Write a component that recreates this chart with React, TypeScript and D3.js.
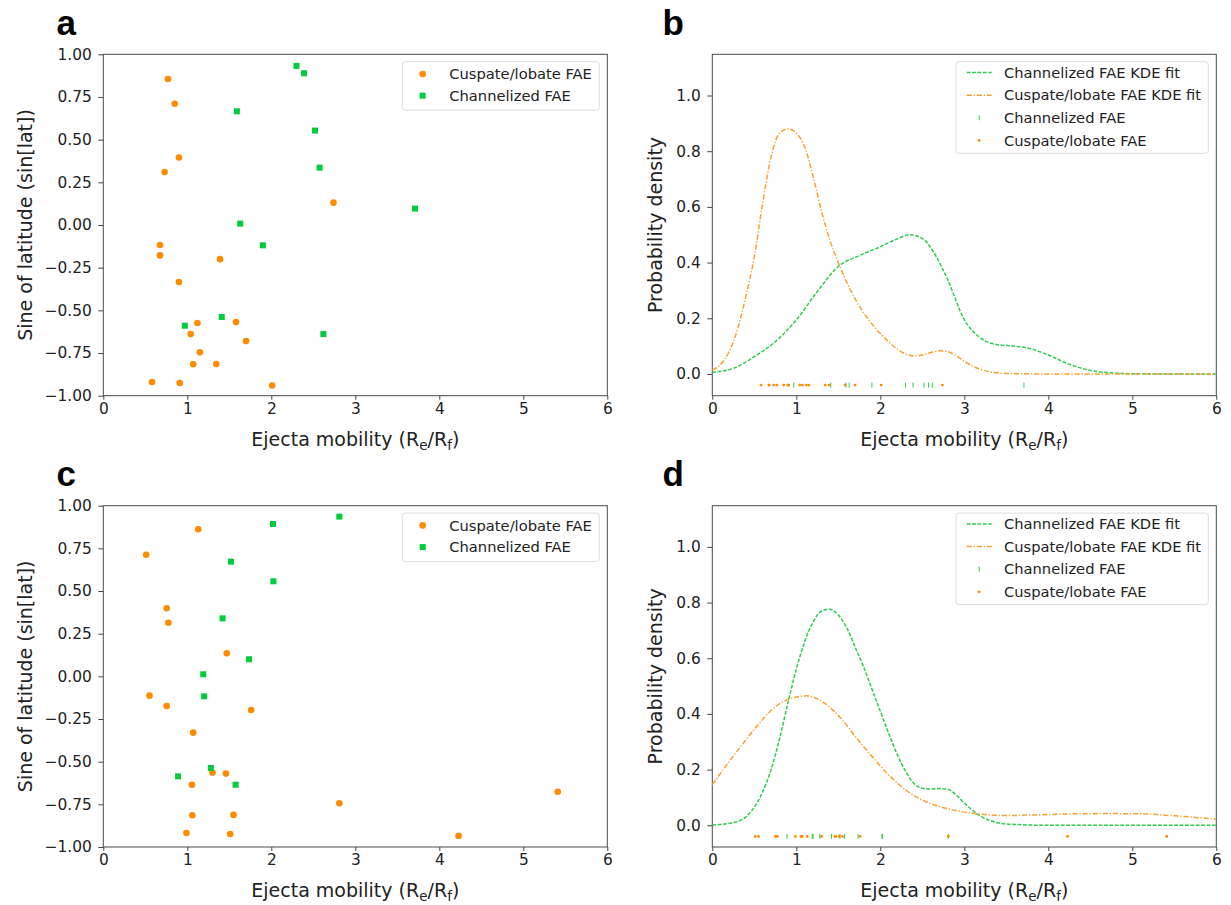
import React, { useRef, useEffect } from "react";
import * as d3 from "d3";

// scatter points: [ejecta mobility, sine of latitude]
const cuspateTop = [
  [0.77, 0.855], [0.85, 0.71], [0.9, 0.395], [0.73, 0.31], [0.675, -0.117],
  [0.675, -0.178], [1.39, -0.2], [0.9, -0.334], [1.12, -0.574], [1.58, -0.568],
  [1.04, -0.639], [1.7, -0.68], [1.15, -0.746], [1.07, -0.816], [1.345, -0.815],
  [0.58, -0.92], [0.91, -0.926], [2.01, -0.94], [2.74, 0.131],
];
const channelTop = [
  [2.3, 0.932], [2.39, 0.889], [1.59, 0.666], [2.52, 0.553], [2.575, 0.336],
  [1.63, 0.008], [3.71, 0.096], [1.9, -0.119], [1.41, -0.539], [0.97, -0.59],
  [2.62, -0.639],
];
const cuspateBottom = [
  [1.13, 0.862], [0.51, 0.713], [0.755, 0.399], [0.775, 0.314], [1.47, 0.135],
  [0.55, -0.113], [0.755, -0.174], [1.76, -0.197], [1.07, -0.33], [1.3, -0.564],
  [1.46, -0.57], [1.055, -0.635], [1.55, -0.812], [1.06, -0.814], [0.99, -0.918],
  [1.51, -0.924], [2.81, -0.744], [4.23, -0.935], [5.41, -0.676],
];
const channelBottom = [
  [2.02, 0.893], [1.52, 0.672], [2.025, 0.557], [1.42, 0.34], [1.735, 0.1],
  [1.19, 0.012], [1.2, -0.117], [1.28, -0.537], [0.89, -0.586], [1.575, -0.635],
  [2.81, 0.936],
];

// KDE curves: [mobility, density]
const kdeChannelTop = [
  [0, 0.006], [0.25, 0.02], [0.5, 0.062], [0.75, 0.116], [1.0, 0.194], [1.25, 0.296],
  [1.5, 0.386], [1.75, 0.425], [2.0, 0.457], [2.2, 0.485], [2.35, 0.5], [2.5, 0.487],
  [2.65, 0.43], [2.8, 0.34], [3.0, 0.195], [3.2, 0.128], [3.4, 0.105], [3.6, 0.1],
  [3.8, 0.09], [4.0, 0.068], [4.25, 0.035], [4.5, 0.013], [4.75, 0.004], [5.0, 0.001],
  [5.5, 0], [6, 0],
];
const kdeCuspateTop = [
  [0, 0.014], [0.1, 0.035], [0.2, 0.08], [0.3, 0.16], [0.4, 0.28], [0.5, 0.42],
  [0.6, 0.615], [0.7, 0.78], [0.8, 0.865], [0.9, 0.88], [1.0, 0.865], [1.1, 0.815],
  [1.2, 0.71], [1.3, 0.585], [1.4, 0.48], [1.5, 0.4], [1.6, 0.33], [1.7, 0.27],
  [1.8, 0.22], [1.9, 0.18], [2.0, 0.145], [2.1, 0.115], [2.2, 0.09], [2.3, 0.072],
  [2.4, 0.065], [2.5, 0.068], [2.6, 0.077], [2.7, 0.083], [2.8, 0.08], [2.9, 0.066],
  [3.0, 0.046], [3.1, 0.028], [3.2, 0.016], [3.3, 0.008], [3.5, 0.002], [4, 0], [6, 0],
];
const kdeChannelBottom = [
  [0, 0.001], [0.25, 0.01], [0.4, 0.03], [0.5, 0.065], [0.6, 0.12], [0.7, 0.2],
  [0.8, 0.31], [0.9, 0.44], [1.0, 0.56], [1.1, 0.66], [1.2, 0.73], [1.3, 0.77],
  [1.4, 0.776], [1.5, 0.755], [1.6, 0.71], [1.7, 0.64], [1.8, 0.57], [1.9, 0.49],
  [2.0, 0.41], [2.1, 0.33], [2.2, 0.255], [2.3, 0.195], [2.4, 0.15], [2.5, 0.133],
  [2.6, 0.13], [2.7, 0.132], [2.8, 0.13], [2.9, 0.11], [3.0, 0.08], [3.1, 0.053],
  [3.2, 0.032], [3.3, 0.018], [3.4, 0.009], [3.6, 0.003], [4, 0], [6, 0],
];
const kdeCuspateBottom = [
  [0, 0.146], [0.33, 0.28], [0.52, 0.352], [0.72, 0.418], [0.92, 0.454], [1.12, 0.465],
  [1.32, 0.442], [1.52, 0.388], [1.71, 0.316], [1.91, 0.244], [2.11, 0.178], [2.31, 0.125],
  [2.51, 0.089], [2.71, 0.067], [2.9, 0.053], [3.1, 0.043], [3.5, 0.035], [3.9, 0.038],
  [4.3, 0.041], [4.7, 0.042], [5.1, 0.041], [5.5, 0.034], [6.0, 0.022],
];

const xTicks = [0, 1, 2, 3, 4, 5, 6];
const sinTicks = [-1, -0.75, -0.5, -0.25, 0, 0.25, 0.5, 0.75, 1];
const densityTicks = [0, 0.2, 0.4, 0.6, 0.8, 1.0];
const scatterLegend = ["Cuspate/lobate FAE", "Channelized FAE"];
const kdeLegend = ["Channelized FAE KDE fit", "Cuspate/lobate FAE KDE fit", "Channelized FAE", "Cuspate/lobate FAE"];

const ORANGE = "#ff8c00";
const GREEN = "#00cc3c";
const KDE_ORANGE = "#f7a233";
const KDE_GREEN = "#2ecc4f";
const FONT = "DejaVu Sans";
const RUG_Y = -0.04;

function App() {
  const svgRef = useRef(null);

  useEffect(() => {
    const svg = d3.select(svgRef.current);
    svg.selectAll("*").remove();

    const frameAxes = (g, x, y, yFormat, yTicks, yLabel, yLabelX, box) => {
      const xAxis = d3.axisBottom(x).tickValues(xTicks).tickFormat(d3.format("d"))
        .tickSize(4).tickSizeOuter(0).tickPadding(3.5);
      const gx = g.append("g").attr("transform", `translate(0,${box.bottom})`).call(xAxis);
      const yAxis = d3.axisLeft(y).tickValues(yTicks).tickFormat(d3.format(yFormat))
        .tickSize(5).tickSizeOuter(0).tickPadding(6.5);
      const gy = g.append("g").attr("transform", `translate(${box.left},0)`).call(yAxis);
      [gx, gy].forEach(a => {
        a.select(".domain").remove();
        a.selectAll("line").attr("stroke", "#444");
        a.selectAll("text").attr("font-family", FONT).attr("font-size", 15.4).attr("fill", "#222");
      });
      g.append("rect")
        .attr("x", box.left).attr("y", box.top)
        .attr("width", box.right - box.left).attr("height", box.bottom - box.top)
        .attr("fill", "none").attr("stroke", "#4a4a4a").attr("stroke-width", 1);

      // x label with subscripts
      const xl = g.append("text")
        .attr("x", (box.left + box.right) / 2).attr("y", box.bottom + 50)
        .attr("text-anchor", "middle").attr("font-family", FONT).attr("font-size", 19).attr("fill", "#222");
      xl.append("tspan").text("Ejecta mobility (R");
      xl.append("tspan").attr("dy", 4).attr("font-size", 13.5).text("e");
      xl.append("tspan").attr("dy", -4).text("/R");
      xl.append("tspan").attr("dy", 4).attr("font-size", 13.5).text("f");
      xl.append("tspan").attr("dy", -4).text(")");

      g.append("text")
        .attr("transform", `translate(${yLabelX},${(box.top + box.bottom) / 2}) rotate(-90)`)
        .attr("text-anchor", "middle").attr("font-family", FONT).attr("font-size", 19).attr("fill", "#222")
        .text(yLabel);
    };

    const panelLetter = (letter, x, y) => {
      svg.append("text").attr("x", x).attr("y", y)
        .attr("font-family", "Liberation Sans").attr("font-weight", "bold").attr("font-size", 35)
        .attr("fill", "#000").text(letter);
    };

    const drawScatter = (box, cusp, chan, letter) => {
      const g = svg.append("g");
      const x = d3.scaleLinear().domain([0, 6]).range([box.left, box.right]);
      const y = d3.scaleLinear().domain([-1, 1]).range([box.bottom, box.top]);
      frameAxes(g, x, y, ".2f", sinTicks, "Sine of latitude (sin[lat])", 32, box);

      g.selectAll(".cusp").data(cusp).join("circle")
        .attr("cx", d => x(d[0])).attr("cy", d => y(d[1])).attr("r", 3.3).attr("fill", ORANGE);
      g.selectAll(".chan").data(chan).join("rect")
        .attr("x", d => x(d[0]) - 3).attr("y", d => y(d[1]) - 3)
        .attr("width", 6).attr("height", 6).attr("fill", GREEN);

      // legend
      const lx = box.left + 299, ly = box.top + 7.4;
      g.append("rect").attr("x", lx).attr("y", ly).attr("width", 197).attr("height", 48.5)
        .attr("rx", 3).attr("fill", "#fff").attr("fill-opacity", 0.8).attr("stroke", "#ddd");
      scatterLegend.forEach((name, i) => {
        const cy = ly + 12.3 + i * 21.7;
        if (i === 0) g.append("circle").attr("cx", lx + 20.4).attr("cy", cy).attr("r", 3.3).attr("fill", ORANGE);
        else g.append("rect").attr("x", lx + 17.4).attr("y", cy - 3).attr("width", 6).attr("height", 6).attr("fill", GREEN);
        g.append("text").attr("x", lx + 47).attr("y", cy).attr("dy", "0.36em")
          .attr("font-family", FONT).attr("font-size", 14.7).attr("fill", "#222").text(name);
      });
      panelLetter(letter, box.left - 46.8, box.top - 19.3);
    };

    const drawKde = (box, kdeChan, kdeCusp, cusp, chan, letter) => {
      const g = svg.append("g");
      const x = d3.scaleLinear().domain([0, 6]).range([box.left, box.right]);
      const y = d3.scaleLinear().domain([-0.078, 1.148]).range([box.bottom, box.top]);
      frameAxes(g, x, y, ".1f", densityTicks, "Probability density", 662 - 712.3 + box.left, box);

      const line = d3.line().x(d => x(d[0])).y(d => y(d[1])).curve(d3.curveMonotoneX);
      g.append("path").datum(kdeChan).attr("d", line).attr("fill", "none")
        .attr("stroke", KDE_GREEN).attr("stroke-width", 1.5).attr("stroke-dasharray", "3.8,1.6");
      g.append("path").datum(kdeCusp).attr("d", line).attr("fill", "none")
        .attr("stroke", KDE_ORANGE).attr("stroke-width", 1.5).attr("stroke-dasharray", "5.2,1.8,1.3,1.8");

      // rug markers
      g.selectAll(".rugchan").data(chan).join("line")
        .attr("x1", d => x(d[0])).attr("x2", d => x(d[0]))
        .attr("y1", y(RUG_Y) - 2.5).attr("y2", y(RUG_Y) + 2.5)
        .attr("stroke", KDE_GREEN).attr("stroke-width", 1);
      g.selectAll(".rugcusp").data(cusp).join("circle")
        .attr("cx", d => x(d[0])).attr("cy", y(RUG_Y)).attr("r", 1.4).attr("fill", ORANGE);

      // legend
      const lx = box.left + 243.7, ly = box.top + 7.4;
      g.append("rect").attr("x", lx).attr("y", ly).attr("width", 252.3).attr("height", 91.6)
        .attr("rx", 3).attr("fill", "#fff").attr("fill-opacity", 0.8).attr("stroke", "#ddd");
      kdeLegend.forEach((name, i) => {
        const cy = ly + 10.9 + i * 22.6;
        const hx0 = lx + 10.7, hx1 = lx + 35.7;
        if (i === 0) g.append("line").attr("x1", hx0).attr("x2", hx1).attr("y1", cy).attr("y2", cy)
          .attr("stroke", KDE_GREEN).attr("stroke-width", 1.5).attr("stroke-dasharray", "3.8,1.6");
        if (i === 1) g.append("line").attr("x1", hx0).attr("x2", hx1).attr("y1", cy).attr("y2", cy)
          .attr("stroke", KDE_ORANGE).attr("stroke-width", 1.5).attr("stroke-dasharray", "5.2,1.8,1.3,1.8");
        if (i === 2) g.append("line").attr("x1", (hx0 + hx1) / 2).attr("x2", (hx0 + hx1) / 2)
          .attr("y1", cy - 2.5).attr("y2", cy + 2.5).attr("stroke", KDE_GREEN).attr("stroke-width", 1);
        if (i === 3) g.append("circle").attr("cx", (hx0 + hx1) / 2).attr("cy", cy).attr("r", 1.4).attr("fill", ORANGE);
        g.append("text").attr("x", lx + 48).attr("y", cy).attr("dy", "0.36em")
          .attr("font-family", FONT).attr("font-size", 14.7).attr("fill", "#222").text(name);
      });
      panelLetter(letter, box.left - 49.8, box.top - 19.3);
    };

    const boxA = { left: 103.3, right: 607.3, top: 54.3, bottom: 395.7 };
    const boxB = { left: 712.3, right: 1216.3, top: 54.3, bottom: 395.7 };
    const boxC = { left: 103.3, right: 607.3, top: 505.7, bottom: 847 };
    const boxD = { left: 712.3, right: 1216.3, top: 505.7, bottom: 847 };

    drawScatter(boxA, cuspateTop, channelTop, "a");
    drawKde(boxB, kdeChannelTop, kdeCuspateTop, cuspateTop, channelTop, "b");
    drawScatter(boxC, cuspateBottom, channelBottom, "c");
    drawKde(boxD, kdeChannelBottom, kdeCuspateBottom, cuspateBottom, channelBottom, "d");
  }, []);

  return (
    <svg ref={svgRef} width={1231} height={905}
      style={{ position: "absolute", left: 0, top: 0, background: "#fff" }}></svg>
  );
}

export default App;
